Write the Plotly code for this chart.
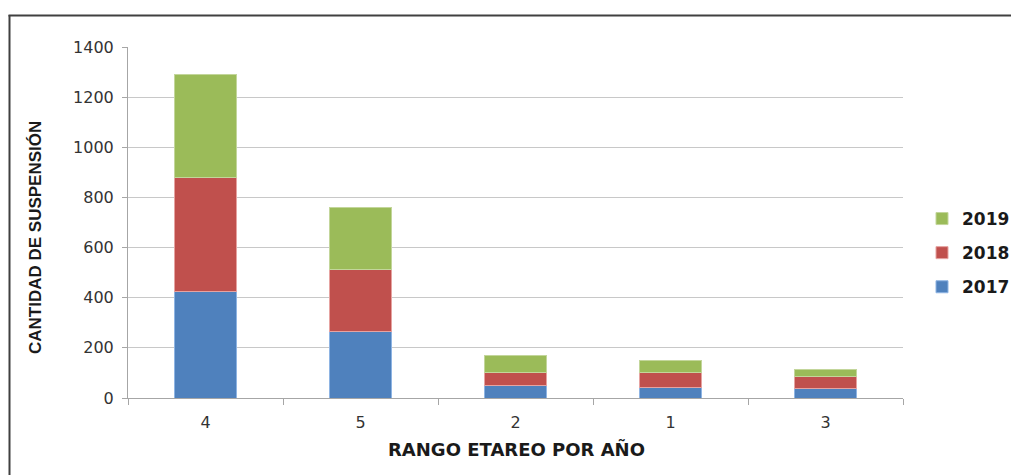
import plotly.graph_objects as go

categories = ["4", "5", "2", "1", "3"]
y2017 = [424, 265, 50, 42, 38]
y2018 = [457, 248, 51, 60, 46]
y2019 = [410, 246, 68, 47, 29]
series_names = ["2017", "2018", "2019"]
colors = ["#4F81BD", "#C0504D", "#9BBB59"]
edge_colors = ["#8EB4E3", "#E6A3A1", "#C3D69B"]

fig = go.Figure()
for i, (name, vals, col, ec) in enumerate(zip(series_names, [y2017, y2018, y2019], colors, edge_colors)):
    fig.add_trace(go.Bar(
        x=categories, y=vals, name=name, legendgroup=name,
        legendrank=1000 - i,
        marker=dict(color=col, line=dict(color=ec, width=1)),
    ))

W, H = 1011, 475
L, R, T, B = 128, 108, 47, 77
pw, ph = W - L - R, H - T - B

def px(x):
    return (x - L) / pw

def py(y):
    return (H - B - y) / ph

border = dict(color="#404040", width=2)

fig.update_layout(
    width=W, height=H,
    margin=dict(l=L, r=R, t=T, b=B, autoexpand=False),
    barmode="stack", bargap=0.6,
    plot_bgcolor="white", paper_bgcolor="white",
    font=dict(family="DejaVu Sans", size=16, color="#262626"),
    showlegend=True,
    legend=dict(
        x=px(922), y=py(253), xanchor="left", yanchor="middle",
        traceorder="grouped", tracegroupgap=9,
        font=dict(family="DejaVu Sans", size=17, color="#1a1a1a", weight="bold"),
        itemwidth=30, bgcolor="rgba(0,0,0,0)",
    ),
    xaxis=dict(
        type="category", showline=True, linecolor="#A6A6A6", linewidth=1,
        ticks="outside", ticklen=6, tickcolor="#A6A6A6", tickson="boundaries",
        ticklabelstandoff=10,
        tickfont=dict(family="DejaVu Sans", size=16, color="#333333"),
        showgrid=False,
    ),
    yaxis=dict(
        range=[0, 1400], dtick=200, showline=True, linecolor="#A6A6A6", linewidth=1,
        ticks="outside", ticklen=5, tickcolor="#A6A6A6",
        ticklabelstandoff=5,
        tickfont=dict(family="DejaVu Sans", size=16, color="#333333"),
        showgrid=True, gridcolor="#C8C8C8", gridwidth=1, zeroline=False,
    ),
    annotations=[
        dict(text="RANGO ETAREO POR AÑO", xref="paper", yref="paper",
             x=px(516), y=py(449), xanchor="center", yanchor="middle", showarrow=False,
             font=dict(family="DejaVu Sans", size=18, color="#1a1a1a", weight="bold")),
        dict(text="CANTIDAD DE SUSPENSIÓN", xref="paper", yref="paper",
             x=px(35), y=py(238), xanchor="center", yanchor="middle", showarrow=False,
             textangle=-90,
             font=dict(family="Liberation Sans", size=17, color="#1a1a1a", weight="bold")),
    ],
    shapes=[
        dict(type="line", xref="paper", yref="paper",
             x0=px(8.5), y0=py(15.5), x1=px(1015), y1=py(15.5), line=border, layer="below"),
        dict(type="line", xref="paper", yref="paper",
             x0=px(9.5), y0=py(15), x1=px(9.5), y1=py(480), line=border, layer="below"),
    ],
)

fig.write_html("out.html")
